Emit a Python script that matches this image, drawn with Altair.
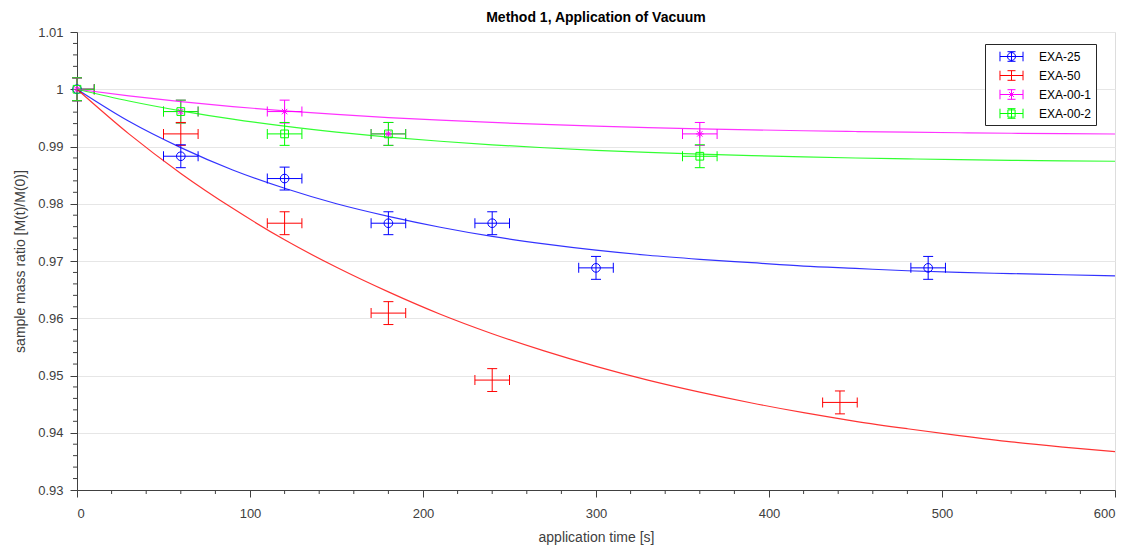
import altair as alt
import pandas as pd

# ---------------- data ----------------
series_names = ["EXA-25", "EXA-50", "EXA-00-1", "EXA-00-2"]
series_colors = ["#0000ff", "#ff0000", "#ff00ff", "#00ff00"]

t_exa25 = [0, 60, 120, 180, 240, 300, 492]
m_exa25 = [1.0, 0.9883, 0.9844, 0.9766, 0.9766, 0.9688, 0.9688]

t_exa50 = [0, 60, 120, 180, 240, 441]
m_exa50 = [1.0, 0.9922, 0.9766, 0.9609, 0.9492, 0.9453]

t_exa001 = [0, 60, 120, 180, 360]
m_exa001 = [1.0, 0.9961, 0.9961, 0.9922, 0.9922]

t_exa002 = [0, 60, 120, 180, 360]
m_exa002 = [1.0, 0.9961, 0.9922, 0.9922, 0.9883]

time_err = 10
mass_err = 0.002

# fitted curves, read at 30 s steps
t_fit = [0, 30, 60, 90, 120, 150, 180, 210, 240, 270, 300,
         330, 360, 390, 420, 450, 480, 510, 540, 570, 600]
fit_exa25 = [1.0, 0.9944, 0.9898, 0.9859, 0.9827, 0.9800, 0.9778, 0.9759, 0.9743, 0.9730, 0.9719,
             0.9710, 0.9703, 0.9697, 0.9691, 0.9687, 0.9683, 0.9680, 0.9678, 0.9676, 0.9674]
fit_exa50 = [1.0, 0.9922, 0.9853, 0.9792, 0.9737, 0.9689, 0.9646, 0.9607, 0.9573, 0.9543, 0.9516,
             0.9492, 0.9471, 0.9452, 0.9435, 0.9420, 0.9407, 0.9395, 0.9384, 0.9375, 0.9367]
fit_exa001 = [1.0, 0.99883, 0.99783, 0.99697, 0.99623, 0.99560, 0.99506, 0.99459, 0.99420, 0.99385, 0.99356,
              0.99331, 0.99309, 0.99291, 0.99275, 0.99262, 0.99250, 0.99240, 0.99231, 0.99224, 0.99218]
fit_exa002 = [1.0, 0.99795, 0.99623, 0.99477, 0.99355, 0.99252, 0.99165, 0.99092, 0.99030, 0.98978, 0.98934,
              0.98897, 0.98866, 0.98840, 0.98818, 0.98799, 0.98784, 0.98770, 0.98759, 0.98750, 0.98742]

x_major = [0, 100, 200, 300, 400, 500, 600]
y_major = [0.93, 0.94, 0.95, 0.96, 0.97, 0.98, 0.99, 1.0, 1.01]
x_minor = [v for v in range(0, 601, 20) if v % 100]
y_minor = [round(0.93 + 0.002 * i, 3) for i in range(41) if i % 5]

# ---------------- tables ----------------
pts_t = [t_exa25, t_exa50, t_exa001, t_exa002]
pts_m = [m_exa25, m_exa50, m_exa001, m_exa002]
fits = [fit_exa25, fit_exa50, fit_exa001, fit_exa002]

pts = pd.DataFrame(
    [{"series": s, "t": t, "m": m}
     for s, ts, ms in zip(series_names, pts_t, pts_m) for t, m in zip(ts, ms)]
)
fit = pd.DataFrame(
    [{"series": s, "t": t, "m": m}
     for s, ms in zip(series_names, fits) for t, m in zip(t_fit, ms)]
)
xminor_df = pd.DataFrame({"v": x_minor})
yminor_df = pd.DataFrame({"v": y_minor})

FONT = "Liberation Sans"
AX = "#404040"
W, H = 1038, 458
XT = "application time [s]"
YT = "sample mass ratio [M(t)/M(0)]"

xs = alt.Scale(domain=[0, 600], nice=False, zero=False)
ys = alt.Scale(domain=[0.93, 1.01], nice=False, zero=False)

xaxis = alt.Axis(values=x_major, grid=False, tickSize=7, tickColor=AX, domainColor=AX,
                 labelColor=AX, labelFont=FONT, labelFontSize=13, labelPadding=10,
                 title=XT, titleFont=FONT, titleFontSize=14, titleFontWeight="normal",
                 titleColor=AX, titlePadding=10, format="d")
yaxis = alt.Axis(values=y_major, grid=True, gridColor="#e6e6e6", gridWidth=1,
                 tickSize=7, tickColor=AX, domainColor=AX,
                 labelColor=AX, labelFont=FONT, labelFontSize=13, labelPadding=7,
                 format=".2~f", title=YT, titleFont=FONT, titleFontSize=14,
                 titleFontWeight="normal", titleColor=AX, titlePadding=10)


def X(f):
    return alt.X(f, type="quantitative", scale=xs, axis=xaxis, title=XT)


def Y(f):
    return alt.Y(f, type="quantitative", scale=ys, axis=yaxis, title=YT)


color = alt.Color("series:N", scale=alt.Scale(domain=series_names, range=series_colors), legend=None)

base = alt.Chart(pts).transform_calculate(
    t_lo=f"datum.t - {time_err}", t_hi=f"datum.t + {time_err}",
    m_lo=f"datum.m - {mass_err}", m_hi=f"datum.m + {mass_err}",
)

vbar = base.mark_rule(strokeWidth=1).encode(x=X("t"), y=Y("m_lo"), y2=alt.Y2("m_hi", title=YT), color=color)
hbar = base.mark_rule(strokeWidth=1, clip=True).encode(x=X("t_lo"), x2=alt.X2("t_hi", title=XT), y=Y("m"), color=color)
cap_lo = base.mark_tick(orient="horizontal", size=10, thickness=1, opacity=1).encode(x=X("t"), y=Y("m_lo"), color=color)
cap_hi = base.mark_tick(orient="horizontal", size=10, thickness=1, opacity=1).encode(x=X("t"), y=Y("m_hi"), color=color)
cap_l = base.mark_tick(orient="vertical", size=10, thickness=1, opacity=1, clip=True).encode(x=X("t_lo"), y=Y("m"), color=color)
cap_r = base.mark_tick(orient="vertical", size=10, thickness=1, opacity=1, clip=True).encode(x=X("t_hi"), y=Y("m"), color=color)

circ = base.transform_filter(alt.datum.series == "EXA-25").mark_point(
    shape="circle", size=75, filled=False, strokeWidth=1, opacity=1).encode(x=X("t"), y=Y("m"), color=color)
star_path = "M-1,0H1M0,-1V1M-0.7,-0.7L0.7,0.7M-0.7,0.7L0.7,-0.7"
star = base.transform_filter(alt.datum.series == "EXA-00-1").mark_point(
    shape=star_path, size=60, filled=False, strokeWidth=1, opacity=1).encode(x=X("t"), y=Y("m"), color=color)
sq = base.transform_filter(alt.datum.series == "EXA-00-2").mark_point(
    shape="square", size=60, filled=False, strokeWidth=1, opacity=1).encode(x=X("t"), y=Y("m"), color=color)

lines = alt.Chart(fit).mark_line(interpolate="monotone", strokeWidth=1.2, opacity=0.8).encode(
    x=X("t"), y=Y("m"), color=color, detail="series:N")

# legend glyphs: error-bar crosses with markers
cross = "M-1.44,0H1.44M-1.44,-0.6V0.6M1.44,-0.6V0.6M0,-0.6V0.6M-0.5,-0.6H0.5M-0.5,0.6H0.5"
legend_paths = [
    cross + "M0.5,0A0.5,0.5,0,1,1,-0.5,0A0.5,0.5,0,1,1,0.5,0",
    cross,
    cross + "M-0.4,0H0.4M-0.3,-0.3L0.3,0.3M-0.3,0.3L0.3,-0.3",
    cross + "M-0.45,-0.45H0.45V0.45H-0.45Z",
]
leg = alt.Legend(title=None, orient="none", legendX=908, legendY=12, padding=4,
                 strokeColor="#262626", fillColor="white", labelFont=FONT, labelFontSize=12,
                 labelColor="black", labelOffset=19, symbolOffset=14, rowPadding=3,
                 symbolStrokeWidth=1, symbolSize=256, symbolOpacity=1)
legend_layer = base.transform_filter(alt.datum.t == 0).mark_point(
    size=256, filled=False, opacity=0, strokeWidth=1).encode(
    x=X("t"), y=Y("m"),
    color=alt.Color("series:N", scale=alt.Scale(domain=series_names, range=series_colors), legend=leg),
    shape=alt.Shape("series:N", scale=alt.Scale(domain=series_names, range=legend_paths), legend=leg),
)

xminor = alt.Chart(xminor_df).mark_rule(color=AX, strokeWidth=1).encode(
    x=X("v"), y=alt.value(H), y2=alt.value(H + 4))
yminor = alt.Chart(yminor_df).mark_rule(color=AX, strokeWidth=1).encode(
    y=Y("v"), x=alt.value(0), x2=alt.value(-4))

chart = alt.layer(
    xminor, yminor, vbar, hbar, cap_lo, cap_hi, cap_l, cap_r, circ, star, sq, lines, legend_layer
).resolve_legend(color="independent", shape="independent").properties(
    width=W, height=H,
    title=alt.TitleParams("Method 1, Application of Vacuum", font=FONT, fontSize=14,
                          fontWeight="bold", color="black", anchor="middle", offset=1),
    autosize=alt.AutoSizeParams(type="none"),
    padding={"left": 69, "top": 24, "right": 7, "bottom": 56},
).configure_view(stroke=None).configure(background="white")

chart.save("out.html", embed_options={"renderer": "svg", "actions": False})
